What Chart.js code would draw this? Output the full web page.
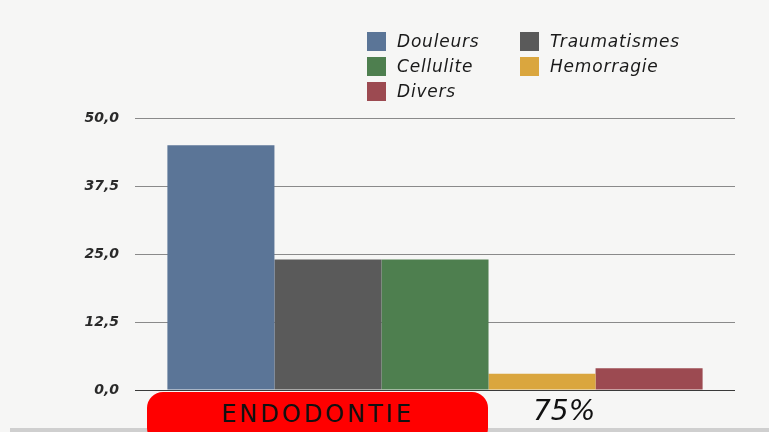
<!DOCTYPE html>
<html>
<head>
<meta charset="utf-8">
<script src="https://cdn.jsdelivr.net/npm/chart.js@4"></script>
<style>
  html, body { margin: 0; padding: 0; }
  body {
    width: 769px; height: 432px; overflow: hidden; position: relative;
    background: #f6f6f5;
    font-family: "DejaVu Sans", sans-serif;
  }
  #wrap { position: absolute; left: 0; top: 0; width: 769px; height: 432px; }
  #legend {
    position: absolute; left: 367px; top: 31px;
    display: grid; grid-template-columns: 153px 220px; row-gap: 5px;
    font-style: italic; font-size: 17px; letter-spacing: 0.8px; color: #1a1a1a;
  }
  .item { display: flex; align-items: center; height: 20px; }
  .sw { width: 19px; height: 19px; margin-right: 11px; flex: none; }
  #foot { position: absolute; left: 10px; top: 428px; width: 759px; height: 4px; background: #cfcfcf; }
  #tag {
    position: absolute; left: 147px; top: 392px; width: 341px; height: 52px;
    background: #ff0000; border-radius: 16px;
    text-align: center; line-height: 44px;
    font-size: 24px; letter-spacing: 3px; color: #111;
  }
  #pct {
    position: absolute; left: 533px; top: 394px;
    font-size: 28px; font-style: italic; color: #111;
  }
</style>
</head>
<body>
<div id="wrap"><canvas id="chart"></canvas></div>
<div id="legend"></div>
<div id="foot"></div>
<div id="tag">ENDODONTIE</div>
<div id="pct">75%</div>
<script>
  const categories = ["Endodontie"];
  const seriesNames = ["Douleurs", "Traumatismes", "Cellulite", "Hemorragie", "Divers"];
  const seriesValues = [45, 24, 24, 3, 4];
  const seriesColors = ["#5b7597", "#5a5a5a", "#4e7f4f", "#daa63e", "#9c4a51"];
  const yTicks = [0, 12.5, 25, 37.5, 50];

  // legend in two columns, same order as the datasets
  const legendEl = document.getElementById("legend");
  seriesNames.forEach((name, i) => {
    const d = document.createElement("div");
    d.className = "item";
    d.innerHTML = '<span class="sw" style="background:' + seriesColors[i] + '"></span>' + name;
    legendEl.appendChild(d);
  });

  const datasets = seriesNames.map((name, i) => ({
    label: name,
    data: [seriesValues[i]],
    backgroundColor: seriesColors[i],
    borderWidth: 0,
    barPercentage: 1,
    categoryPercentage: 0.892,
  }));

  new Chart(document.getElementById("chart"), {
    type: "bar",
    data: { labels: categories, datasets: datasets },
    options: {
      responsive: true,
      maintainAspectRatio: false,
      animation: false,
      layout: { padding: { top: 118, bottom: 42, left: 0, right: 34 } },
      plugins: { legend: { display: false }, tooltip: { enabled: false } },
      scales: {
        x: { display: false },
        y: {
          min: 0,
          max: 50,
          afterBuildTicks: (scale) => { scale.ticks = yTicks.map((v) => ({ value: v })); },
          afterFit: (scale) => { scale.width = 135; },
          border: { display: false },
          grid: {
            drawTicks: false,
            color: (ctx) => (ctx.tick && ctx.tick.value === 0 ? "#3a3a3a" : "#8a8a8a"),
            lineWidth: 1,
          },
          ticks: {
            padding: 16,
            color: "#2a2a2a",
            font: { size: 14, style: "italic", weight: "bold", family: "DejaVu Sans" },
            callback: (v) => v.toFixed(1).replace(".", ","),
          },
        },
      },
    },
  });
</script>
</body>
</html>
